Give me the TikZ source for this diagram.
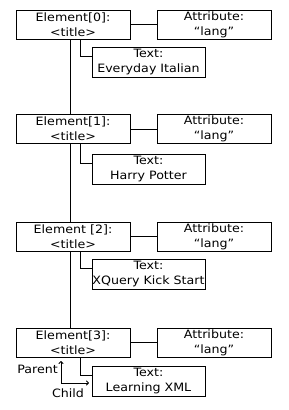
\documentclass[tikz,border=0pt]{standalone}
\usepackage{fontspec}
\setmainfont{DejaVu Sans}[FakeStretch=1.1]
\usetikzlibrary{arrows.meta}
\begin{document}
\begin{tikzpicture}[x=1pt,y=-1pt,
  box/.style={draw,line width=1pt,minimum width=114pt,minimum height=29pt,inner sep=0pt,
    align=center,font=\fontsize{11.5}{15}\selectfont},
  txtbox/.style={box,minimum width=113pt,minimum height=30pt},
  conn/.style={line width=1pt},
  arr/.style={line width=1pt,-{To[length=3pt,width=5pt]}},
  lbl/.style={inner sep=0pt,font=\fontsize{11.5}{13}\selectfont}]
\fill[white] (0,0) rectangle (289,410);
\useasboundingbox (0,0) rectangle (289,410);
% row 0
\node[box] (e0) at (73,24.5) {Element[0]:\\<title>};
\node[box] (a0) at (214,24.5) {Attribute:\\“lang”};
\node[txtbox] (t0) at (148.5,62) {Text:\\Everyday Italian};
% row 1
\node[box] (e1) at (73,129) {Element[1]:\\<title>};
\node[box] (a1) at (214,129) {Attribute:\\“lang”};
\node[txtbox] (t1) at (148.5,169) {Text:\\Harry Potter};
% row 2
\node[box] (e2) at (73,236.5) {Element [2]:\\<title>};
\node[box] (a2) at (214,236.5) {Attribute:\\“lang”};
\node[txtbox] (t2) at (148.5,274) {Text:\\XQuery Kick Start};
% row 3
\node[box] (e3) at (73,342.5) {Element[3]:\\<title>};
\node[box] (a3) at (214,342.5) {Attribute:\\“lang”};
\node[txtbox] (t3) at (148.5,381) {Text:\\Learning XML};
% main vertical
\draw[conn] ([xshift=-3pt]e0.south) -- ([xshift=-3pt]e1.north);
\draw[conn] ([xshift=-3pt]e1.south) -- ([xshift=-3pt]e2.north);
\draw[conn] ([xshift=-3pt]e2.south) -- ([xshift=-3pt]e3.north);
% attribute and text connectors
\foreach \i in {0,1,2,3}{
  \draw[conn] (e\i.east) -- (a\i.west);
  \draw[conn] ([xshift=7pt]e\i.south) |- ([yshift=-10pt]t\i.north west);
}
% parent / child legend
\coordinate (pc) at (61,383);
\coordinate (pend) at (61,361);
\coordinate (cend) at (89,383);
\draw[arr] (pc) -- (pend);
\draw[arr] (pc) -- (cend);
\node[lbl,anchor=east] (plbl) at (58,369) {Parent};
\node[lbl] (clbl) at (68,393) {Child};
\end{tikzpicture}
\end{document}
